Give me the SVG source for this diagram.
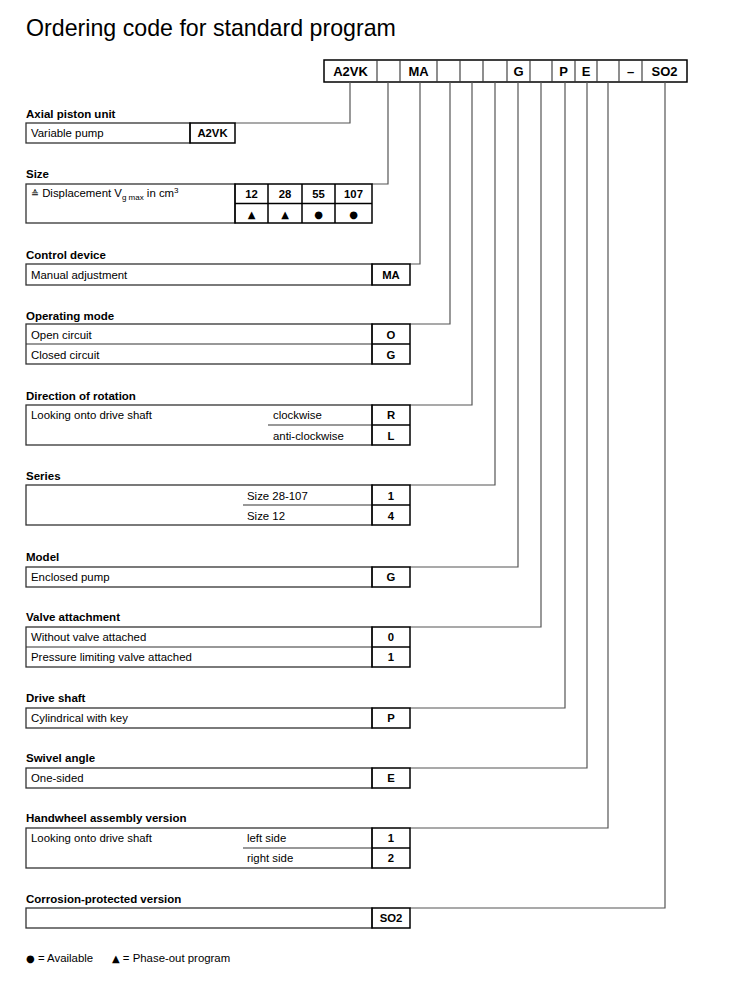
<svg xmlns="http://www.w3.org/2000/svg" width="731" height="985" viewBox="0 0 731 985">
<style>
text{font-family:"Liberation Sans",Arial,sans-serif;fill:#000}
.title{font-size:23.2px}
.h{font-size:11.5px;font-weight:bold}
.t{font-size:11.4px}
.c{font-size:11.3px;font-weight:bold;text-anchor:middle}
.hc{font-size:13px;font-weight:bold;text-anchor:middle}
.sym{font-family:"DejaVu Sans",sans-serif;font-size:10px;text-anchor:middle}
.box{fill:none;stroke:#333;stroke-width:1.3}
.cell{fill:none;stroke:#000;stroke-width:1.5}
.div{stroke:#333;stroke-width:1.1;fill:none}
.conn{fill:none;stroke:#555;stroke-width:1.2}
</style>
<rect width="731" height="985" fill="#fff"/>
<text class="title" x="26" y="36">Ordering code for standard program</text>

<g id="header">
<rect class="cell" x="324" y="60" width="363" height="22"/>
<path class="div" d="M377 60V82M400 60V82M437 60V82M460 60V82M483 60V82M507 60V82M530 60V82M552 60V82M575 60V82M597 60V82M619 60V82M642 60V82"/>
<text class="hc" x="350.5" y="76">A2VK</text>
<text class="hc" x="418.5" y="76">MA</text>
<text class="hc" x="518.5" y="76">G</text>
<text class="hc" x="563.5" y="76">P</text>
<text class="hc" x="586" y="76">E</text>
<text class="hc" x="630.5" y="76">–</text>
<text class="hc" x="664.5" y="76">SO2</text>
</g>

<g id="connectors">
<path class="conn" d="M350 82V123H235"/>
<path class="conn" d="M388 82V184H372"/>
<path class="conn" d="M420 82V264H410"/>
<path class="conn" d="M450 82V324H410"/>
<path class="conn" d="M472 82V405H410"/>
<path class="conn" d="M495 82V485H410"/>
<path class="conn" d="M518 82V567H410"/>
<path class="conn" d="M541 82V627H410"/>
<path class="conn" d="M565 82V708H410"/>
<path class="conn" d="M587 82V768H410"/>
<path class="conn" d="M608 82V828H410"/>
<path class="conn" d="M665 82V908H410"/>
</g>

<g id="axial-piston-unit">
<text class="h" x="26" y="118">Axial piston unit</text>
<rect class="box" x="26" y="123" width="164" height="20"/>
<rect class="cell" x="190" y="123" width="45" height="20"/>
<text class="t" x="31" y="137">Variable pump</text>
<text class="c" x="212.5" y="137">A2VK</text>
</g>

<g id="size">
<text class="h" x="26" y="178">Size</text>
<rect class="box" x="26" y="184" width="209" height="39"/>
<rect class="cell" x="235" y="184" width="137" height="39"/>
<path class="cell" d="M235 203.5H372M268 184V223M302 184V223M335 184V223"/>
<text class="t" x="31" y="197"><tspan font-family="DejaVu Sans" font-size="9.5">≙</tspan> Displacement V<tspan font-size="8" dy="3">g max</tspan><tspan dy="-3"> in cm</tspan><tspan font-size="8" dy="-4">3</tspan></text>
<text class="c" x="251.5" y="198">12</text>
<text class="c" x="285" y="198">28</text>
<text class="c" x="318.5" y="198">55</text>
<text class="c" x="353.5" y="198">107</text>
<text class="sym" x="251.5" y="218">▲</text>
<text class="sym" x="285" y="218">▲</text>
<text class="sym" x="318.5" y="218">●</text>
<text class="sym" x="353.5" y="218">●</text>
</g>

<g id="control-device">
<text class="h" x="26" y="259">Control device</text>
<rect class="box" x="26" y="264" width="346" height="21"/>
<rect class="cell" x="372" y="264" width="38" height="21"/>
<text class="t" x="31" y="279">Manual adjustment</text>
<text class="c" x="391" y="279">MA</text>
</g>

<g id="operating-mode">
<text class="h" x="26" y="320">Operating mode</text>
<rect class="box" x="26" y="324" width="346" height="40"/>
<path class="div" d="M26 344H372"/>
<rect class="cell" x="372" y="324" width="38" height="40"/>
<path class="cell" d="M372 344H410"/>
<text class="t" x="31" y="339">Open circuit</text>
<text class="t" x="31" y="359">Closed circuit</text>
<text class="c" x="391" y="339">O</text>
<text class="c" x="391" y="359">G</text>
</g>

<g id="direction-of-rotation">
<text class="h" x="26" y="400">Direction of rotation</text>
<rect class="box" x="26" y="405" width="346" height="40"/>
<path class="div" d="M268 425H372"/>
<rect class="cell" x="372" y="405" width="38" height="40"/>
<path class="cell" d="M372 425H410"/>
<text class="t" x="31" y="419">Looking onto drive shaft</text>
<text class="t" x="273" y="419">clockwise</text>
<text class="t" x="273" y="440">anti-clockwise</text>
<text class="c" x="391" y="419">R</text>
<text class="c" x="391" y="440">L</text>
</g>

<g id="series">
<text class="h" x="26" y="480">Series</text>
<rect class="box" x="26" y="485" width="346" height="40"/>
<path class="div" d="M243 505H372"/>
<rect class="cell" x="372" y="485" width="38" height="40"/>
<path class="cell" d="M372 505H410"/>
<text class="t" x="247" y="500">Size 28-107</text>
<text class="t" x="247" y="520">Size 12</text>
<text class="c" x="391" y="500">1</text>
<text class="c" x="391" y="520">4</text>
</g>

<g id="model">
<text class="h" x="26" y="561">Model</text>
<rect class="box" x="26" y="567" width="346" height="20"/>
<rect class="cell" x="372" y="567" width="38" height="20"/>
<text class="t" x="31" y="581">Enclosed pump</text>
<text class="c" x="391" y="581">G</text>
</g>

<g id="valve-attachment">
<text class="h" x="26" y="621">Valve attachment</text>
<rect class="box" x="26" y="627" width="346" height="40"/>
<path class="div" d="M26 647H372"/>
<rect class="cell" x="372" y="627" width="38" height="40"/>
<path class="cell" d="M372 647H410"/>
<text class="t" x="31" y="641">Without valve attached</text>
<text class="t" x="31" y="661">Pressure limiting valve attached</text>
<text class="c" x="391" y="641">0</text>
<text class="c" x="391" y="661">1</text>
</g>

<g id="drive-shaft">
<text class="h" x="26" y="702">Drive shaft</text>
<rect class="box" x="26" y="708" width="346" height="20"/>
<rect class="cell" x="372" y="708" width="38" height="20"/>
<text class="t" x="31" y="722">Cylindrical with key</text>
<text class="c" x="391" y="722">P</text>
</g>

<g id="swivel-angle">
<text class="h" x="26" y="762">Swivel angle</text>
<rect class="box" x="26" y="768" width="346" height="20"/>
<rect class="cell" x="372" y="768" width="38" height="20"/>
<text class="t" x="31" y="782">One-sided</text>
<text class="c" x="391" y="782">E</text>
</g>

<g id="handwheel-assembly-version">
<text class="h" x="26" y="822">Handwheel assembly version</text>
<rect class="box" x="26" y="828" width="346" height="40"/>
<path class="div" d="M243 848H372"/>
<rect class="cell" x="372" y="828" width="38" height="40"/>
<path class="cell" d="M372 848H410"/>
<text class="t" x="31" y="842">Looking onto drive shaft</text>
<text class="t" x="247" y="842">left side</text>
<text class="t" x="247" y="862">right side</text>
<text class="c" x="391" y="842">1</text>
<text class="c" x="391" y="862">2</text>
</g>

<g id="corrosion-protected-version">
<text class="h" x="26" y="903">Corrosion-protected version</text>
<rect class="box" x="26" y="908" width="346" height="20"/>
<rect class="cell" x="372" y="908" width="38" height="20"/>
<text class="c" x="391" y="922">SO2</text>
</g>

<g id="legend">
<text class="t" x="26" y="962"><tspan font-family="DejaVu Sans" font-size="10">●</tspan> = Available</text>
<text class="t" x="112" y="962"><tspan font-family="DejaVu Sans" font-size="10">▲</tspan> = Phase-out program</text>
</g>
</svg>
